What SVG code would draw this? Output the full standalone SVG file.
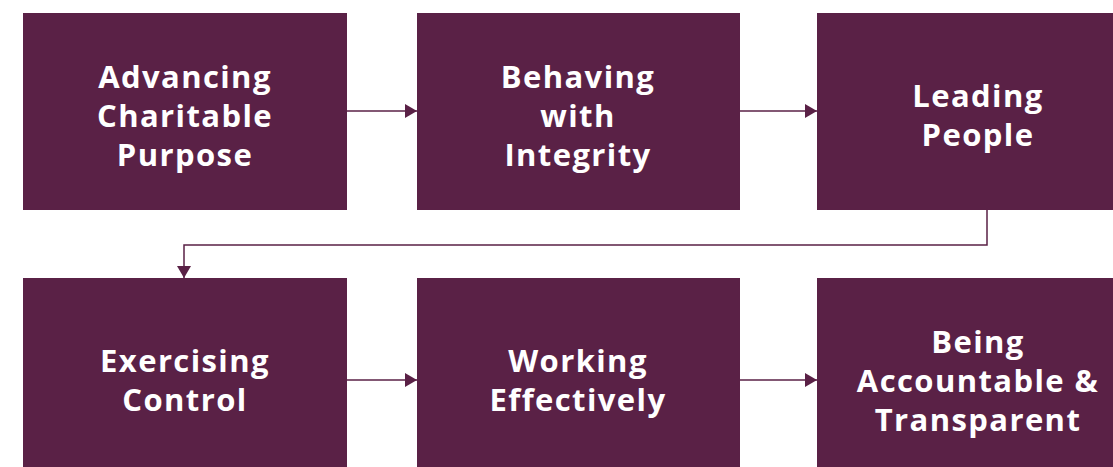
<svg xmlns="http://www.w3.org/2000/svg" width="1113" height="467" viewBox="0 0 1113 467">
  <defs>
    <style>
      .box { fill: #5a2146; }
      .label { fill: #ffffff; font-family: "Open Sans", "Liberation Sans", sans-serif; font-weight: 700; font-size: 31px; letter-spacing: 1.4px; text-anchor: middle; }
      .link { fill: none; stroke: #5a2146; stroke-width: 1.5; }
    </style>
    <marker id="arrow" viewBox="0 0 12 14" refX="12" refY="7" markerWidth="12" markerHeight="14" markerUnits="userSpaceOnUse" orient="auto">
      <path d="M0,0 L12,7 L0,14 Z" fill="#5a2146"/>
    </marker>
  </defs>

  <rect width="1113" height="467" fill="#ffffff"/>

  <g id="connectors">
    <line class="link" x1="347" y1="111" x2="417" y2="111" marker-end="url(#arrow)"/>
    <line class="link" x1="740" y1="111" x2="817" y2="111" marker-end="url(#arrow)"/>
    <polyline class="link" points="987,210 987,245 184,245 184,278" marker-end="url(#arrow)"/>
    <line class="link" x1="347" y1="380" x2="417" y2="380" marker-end="url(#arrow)"/>
    <line class="link" x1="740" y1="380" x2="817" y2="380" marker-end="url(#arrow)"/>
  </g>

  <g id="advancing-charitable-purpose">
    <rect class="box" x="23" y="13" width="324" height="197"/>
    <text class="label" x="185" y="88">Advancing</text>
    <text class="label" x="185" y="127">Charitable</text>
    <text class="label" x="185" y="166">Purpose</text>
  </g>

  <g id="behaving-with-integrity">
    <rect class="box" x="417" y="13" width="323" height="197"/>
    <text class="label" x="578" y="88">Behaving</text>
    <text class="label" x="578" y="127">with</text>
    <text class="label" x="578" y="166">Integrity</text>
  </g>

  <g id="leading-people">
    <rect class="box" x="817" y="13" width="330" height="197"/>
    <text class="label" x="978" y="107">Leading</text>
    <text class="label" x="978" y="146">People</text>
  </g>

  <g id="exercising-control">
    <rect class="box" x="23" y="278" width="324" height="200"/>
    <text class="label" x="185" y="372">Exercising</text>
    <text class="label" x="185" y="411">Control</text>
  </g>

  <g id="working-effectively">
    <rect class="box" x="417" y="278" width="323" height="200"/>
    <text class="label" x="578" y="372">Working</text>
    <text class="label" x="578" y="411">Effectively</text>
  </g>

  <g id="being-accountable-transparent">
    <rect class="box" x="817" y="278" width="330" height="200"/>
    <text class="label" x="978" y="353">Being</text>
    <text class="label" x="978" y="392">Accountable &amp;</text>
    <text class="label" x="978" y="431">Transparent</text>
  </g>
</svg>
